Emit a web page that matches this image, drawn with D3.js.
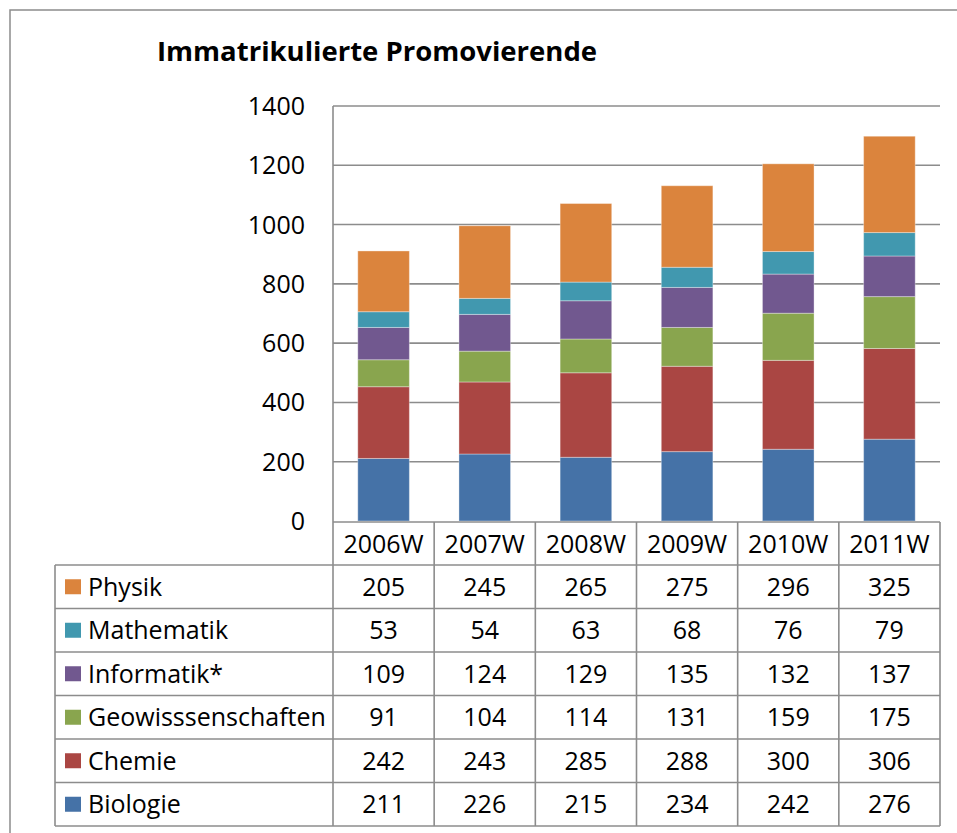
<!DOCTYPE html>
<html><head><meta charset="utf-8">
<script src="https://cdn.jsdelivr.net/npm/d3@7"></script>
<style>body{margin:0;background:#fff}svg{display:block}text{font-family:"Open Sans",sans-serif;fill:#000}</style>
</head><body><svg id="c" width="957" height="833"></svg>
<script>
const title = "Immatrikulierte Promovierende";
const categories = ["2006W","2007W","2008W","2009W","2010W","2011W"];
const seriesNames = ["Physik","Mathematik","Informatik*","Geowisssenschaften","Chemie","Biologie"];
const physik = [205,245,265,275,296,325];
const mathematik = [53,54,63,68,76,79];
const informatik = [109,124,129,135,132,137];
const geo = [91,104,114,131,159,175];
const chemie = [242,243,285,288,300,306];
const biologie = [211,226,215,234,242,276];
const colors = ["#DB843D","#4198AF","#71588F","#89A54E","#AA4643","#4572A7"];
const yTicks = [0,200,400,600,800,1000,1200,1400];

const seriesValues = [physik,mathematik,informatik,geo,chemie,biologie];
const rows = categories.map((c,i)=>{const o={cat:c}; seriesNames.forEach((s,j)=>o[s]=seriesValues[j][i]); return o;});
const stackOrder = seriesNames.slice().reverse(); // bottom first
const stack = d3.stack().keys(stackOrder)(rows);

const svg = d3.select("#c");
const L=333, R=940, T=106, B=521;
const FS = 25;
const x = d3.scaleBand().domain(categories).range([L,R]).paddingInner(0.49).paddingOuter(0.245);
const colX = d3.scaleBand().domain(categories).range([L,R]);
const y = d3.scaleLinear().domain([0,1400]).range([B,T]);
const color = d3.scaleOrdinal().domain(seriesNames).range(colors);

svg.append("rect").attr("x",10).attr("y",10).attr("width",1000).attr("height",1000)
  .attr("fill","none").attr("stroke","#8c8c8c").attr("stroke-width",1.5);

svg.append("text").attr("x",157).attr("y",61).attr("font-size",27.5).attr("font-weight","bold").text(title);

svg.append("g").selectAll("line").data(yTicks.filter(d=>d>0)).join("line")
  .attr("x1",L).attr("x2",R).attr("y1",d=>y(d)).attr("y2",d=>y(d))
  .attr("stroke","#8c8c8c").attr("stroke-width",1.6);

svg.append("g").selectAll("text").data(yTicks).join("text")
  .attr("x",305).attr("y",d=>y(d)).attr("dy","0.36em").attr("text-anchor","end")
  .attr("font-size",FS).text(d=>d);

svg.append("g").selectAll("g").data(stack).join("g").attr("fill",d=>color(d.key))
  .selectAll("rect").data(d=>d).join("rect")
  .attr("x",d=>x(d.data.cat)).attr("width",x.bandwidth())
  .attr("y",d=>y(d[1])).attr("height",d=>y(d[0])-y(d[1]))
  .attr("stroke","rgba(255,255,255,0.35)").attr("stroke-width",1);

const tableTop = 522, headerH = 43, rowH = 43.5, tableLeft = 55;
const g = svg.append("g");
const lc = "#8c8c8c", lw = 1.6;
const tableBottom = tableTop + headerH + rowH*seriesNames.length;
g.append("line").attr("x1",L).attr("x2",L).attr("y1",T).attr("y2",tableBottom).attr("stroke",lc).attr("stroke-width",lw);
g.append("line").attr("x1",L).attr("x2",R).attr("y1",tableTop).attr("y2",tableTop).attr("stroke",lc).attr("stroke-width",lw);
categories.forEach(c=>{
  g.append("line").attr("x1",colX(c)+colX.bandwidth()).attr("x2",colX(c)+colX.bandwidth())
   .attr("y1",tableTop).attr("y2",tableBottom).attr("stroke",lc).attr("stroke-width",lw);
});
g.append("line").attr("x1",tableLeft).attr("x2",tableLeft).attr("y1",tableTop+headerH).attr("y2",tableBottom).attr("stroke",lc).attr("stroke-width",lw);
d3.range(seriesNames.length+1).forEach(i=>{
  const yy = tableTop+headerH+rowH*i;
  g.append("line").attr("x1",tableLeft).attr("x2",R).attr("y1",yy).attr("y2",yy).attr("stroke",lc).attr("stroke-width",lw);
});
g.selectAll("text.h").data(categories).join("text").attr("class","h")
  .attr("x",c=>colX(c)+colX.bandwidth()/2).attr("y",tableTop+headerH/2).attr("dy","0.36em")
  .attr("text-anchor","middle").attr("font-size",FS).text(c=>c);
seriesNames.forEach((s,i)=>{
  const cy = tableTop+headerH+rowH*i+rowH/2;
  g.append("rect").attr("x",65).attr("y",cy-7.5).attr("width",16).attr("height",15).attr("fill",color(s));
  g.append("text").attr("x",88).attr("y",cy).attr("dy","0.36em").attr("font-size",FS).text(s);
  categories.forEach((c,j)=>{
    g.append("text").attr("x",colX(c)+colX.bandwidth()/2).attr("y",cy).attr("dy","0.36em")
     .attr("text-anchor","middle").attr("font-size",FS).text(seriesValues[i][j]);
  });
});
</script></body></html>
